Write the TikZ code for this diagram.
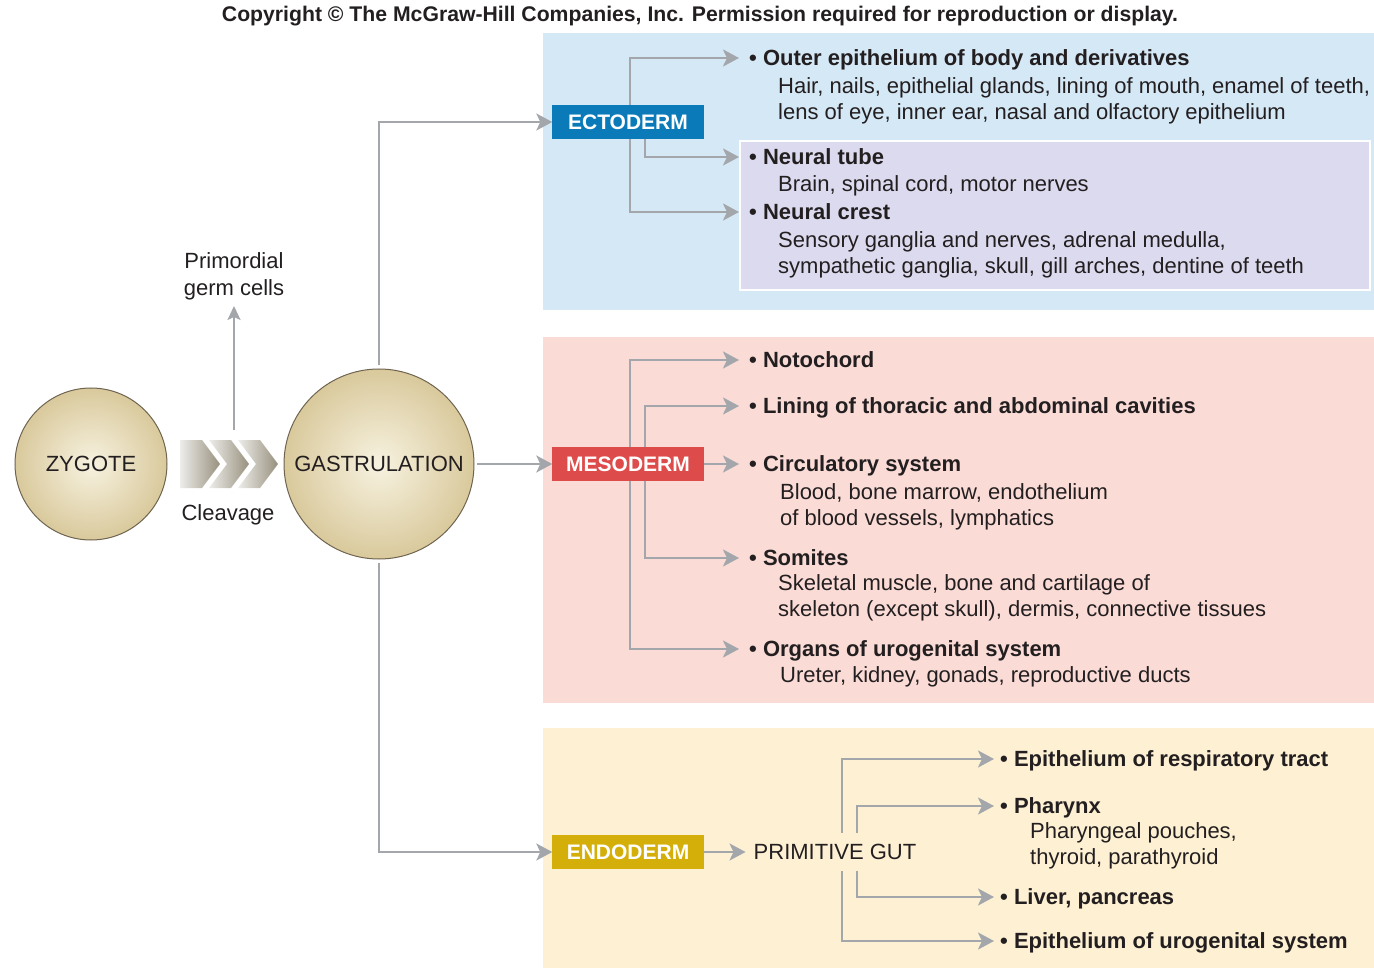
\documentclass[tikz,border=0pt]{standalone}
\usepackage{fontspec}
\setmainfont{Liberation Sans}
\usetikzlibrary{arrows.meta,calc}
\pgfdeclarelayer{panel}
\pgfdeclarelayer{lines}
\pgfsetlayers{panel,lines,main}
\definecolor{ectobg}{HTML}{D5E8F6}
\definecolor{crestbg}{HTML}{DCDAEE}
\definecolor{mesobg}{HTML}{FADBD6}
\definecolor{endobg}{HTML}{FDF0D3}
\definecolor{ectobox}{HTML}{0B7AB8}
\definecolor{mesobox}{HTML}{DD4B4B}
\definecolor{endobox}{HTML}{D4AF0A}
\definecolor{linegray}{HTML}{A3A7AB}
\definecolor{txt}{HTML}{231F20}
\definecolor{ballin}{HTML}{F7F2E0}
\definecolor{ballout}{HTML}{D9C99C}
\definecolor{ballrim}{HTML}{6E6450}
\definecolor{chev}{HTML}{8C8470}
\tikzset{
  conn/.style={draw=linegray, line width=2.4pt, -{Stealth[length=16pt,width=17pt,inset=4pt]}},
  head/.style={anchor=west, inner sep=0pt, font=\fontsize{22}{26}\selectfont\bfseries, text=txt, text height=15.5pt, text depth=0pt},
  sub/.style={anchor=west, inner sep=0pt, font=\fontsize{22}{26}\selectfont, text=txt, text height=15.5pt, text depth=0pt},
  germ/.style={draw=txt, fill=white, minimum width=151pt, minimum height=33pt, inner sep=0pt, font=\fontsize{21}{25}\selectfont\bfseries, text=white},
  ball/.style={circle, draw=ballrim, line width=1pt, inner color=ballin, outer color=ballout, font=\fontsize{22}{26}\selectfont, text=txt},
  lbl/.style={font=\fontsize{22}{27}\selectfont, text=txt, align=center, inner sep=0pt},
  chevron/.style={left color=chev!15, right color=chev!90, draw=none}
}
\begin{document}
\begin{tikzpicture}[x=1pt,y=-1pt]
\useasboundingbox (0,0) rectangle (1374,968);
% panels
\begin{pgfonlayer}{panel}
  \fill[ectobg] (543,33) rectangle (1374,310);
  \draw[white, line width=2pt, fill=crestbg] (740,141) rectangle (1370,290);
  \fill[mesobg] (543,337) rectangle (1374,703);
  \fill[endobg] (543,728) rectangle (1374,968);
\end{pgfonlayer}
% title
\node[font=\fontsize{21.2}{25}\selectfont\bfseries, text=txt] (title) at (700,16) {Copyright \textcopyright{} The McGraw-Hill Companies, Inc. Permission required for reproduction or display.};
% left part
\node[ball, minimum size=152pt] (zyg) at (91,464) {ZYGOTE};
\node[ball, minimum size=190pt, inner sep=0pt] (gast) at (379,464) {GASTRULATION};
\path[chevron] (180,440) -- (202,440) -- (220,464) -- (202,488) -- (180,488) -- cycle;
\path[chevron] (209,440) -- (231,440) -- (249,464) -- (231,488) -- (209,488) -- (227,464) -- cycle;
\path[chevron] (238,440) -- (260,440) -- (278,464) -- (260,488) -- (238,488) -- (256,464) -- cycle;
\node[lbl] (pgc) at (234,276) {Primordial\\germ cells};
\node[lbl] (cleav) at (228,515) {Cleavage};
\coordinate (pgcstart) at (234,430);
% germ layer labels
\node[germ, fill=ectobox, draw=ectobox] (ecto) at (628,122) {ECTODERM};
\node[germ, fill=mesobox, draw=mesobox] (meso) at (628,464) {MESODERM};
\node[germ, fill=endobox, draw=endobox] (endo) at (628,852) {ENDODERM};
% ectoderm texts
\node[head] (outer) at (749,58) {\textbullet\ Outer epithelium of body and derivatives};
\node[sub] (outer1) at (778,86) {Hair, nails, epithelial glands, lining of mouth, enamel of teeth,};
\node[sub] (outer2) at (778,112) {lens of eye, inner ear, nasal and olfactory epithelium};
\node[head] (ntube) at (749,157) {\textbullet\ Neural tube};
\node[sub] (ntube1) at (778,184) {Brain, spinal cord, motor nerves};
\node[head] (crest) at (749,212) {\textbullet\ Neural crest};
\node[sub] (crest1) at (778,240) {Sensory ganglia and nerves, adrenal medulla,};
\node[sub] (crest2) at (778,266) {sympathetic ganglia, skull, gill arches, dentine of teeth};
% mesoderm texts
\node[head] (noto) at (749,360) {\textbullet\ Notochord};
\node[head] (lining) at (749,406) {\textbullet\ Lining of thoracic and abdominal cavities};
\node[head] (circ) at (749,464) {\textbullet\ Circulatory system};
\node[sub] (circ1) at (780,492) {Blood, bone marrow, endothelium};
\node[sub] (circ2) at (780,518) {of blood vessels, lymphatics};
\node[head] (somi) at (749,558) {\textbullet\ Somites};
\node[sub] (somi1) at (778,583) {Skeletal muscle, bone and cartilage of};
\node[sub] (somi2) at (778,609) {skeleton (except skull), dermis, connective tissues};
\node[head] (orga) at (749,649) {\textbullet\ Organs of urogenital system};
\node[sub] (orga1) at (780,675) {Ureter, kidney, gonads, reproductive ducts};
% endoderm texts
\node[sub, anchor=center, fill=endobg, inner xsep=2pt, inner ysep=11pt] (pg) at (835,852) {PRIMITIVE GUT};
\node[head] (resp) at (1000,759) {\textbullet\ Epithelium of respiratory tract};
\node[head] (phar) at (1000,806) {\textbullet\ Pharynx};
\node[sub] (phar1) at (1030,831) {Pharyngeal pouches,};
\node[sub] (phar2) at (1030,857) {thyroid, parathyroid};
\node[head] (liver) at (1000,897) {\textbullet\ Liver, pancreas};
\node[head] (urog) at (1000,941) {\textbullet\ Epithelium of urogenital system};
% branch columns
\coordinate (eA) at (630,0);
\coordinate (eB) at (645,0);
\coordinate (gA) at (842,0);
\coordinate (gB) at (857,0);
% connectors
\begin{pgfonlayer}{lines}
  \draw[conn, -{Stealth[length=14pt,width=13pt,inset=3pt]}] (pgcstart) -- ([yshift=-6pt]pgc.south);
  \draw[conn, shorten <=3pt] (gast.north) |- (ecto.west);
  \draw[conn, shorten <=2pt] (gast.east) -- (meso.west);
  \draw[conn, shorten <=3pt] (gast.south) |- (endo.west);
  \draw[conn, shorten >=10pt] (eA |- ecto.center) |- (outer.west);
  \draw[conn, shorten >=10pt] (eA |- ecto.center) |- (crest.west);
  \draw[conn, shorten >=10pt] (eB |- ecto.center) |- (ntube.west);
  \draw[conn, shorten >=10pt] (eA |- meso.center) |- (noto.west);
  \draw[conn, shorten >=10pt] (eA |- meso.center) |- (orga.west);
  \draw[conn, shorten >=10pt] (eB |- meso.center) |- (lining.west);
  \draw[conn, shorten >=10pt] (eB |- meso.center) |- (somi.west);
  \draw[conn, shorten >=10pt] (meso.east) -- (circ.west);
  \draw[conn, shorten >=6pt] (endo.east) -- (pg.west);
  \draw[conn, shorten >=6pt] (gA |- pg.center) |- (resp.west);
  \draw[conn, shorten >=6pt] (gA |- pg.center) |- (urog.west);
  \draw[conn, shorten >=6pt] (gB |- pg.center) |- (phar.west);
  \draw[conn, shorten >=6pt] (gB |- pg.center) |- (liver.west);
\end{pgfonlayer}
\end{tikzpicture}
\end{document}
